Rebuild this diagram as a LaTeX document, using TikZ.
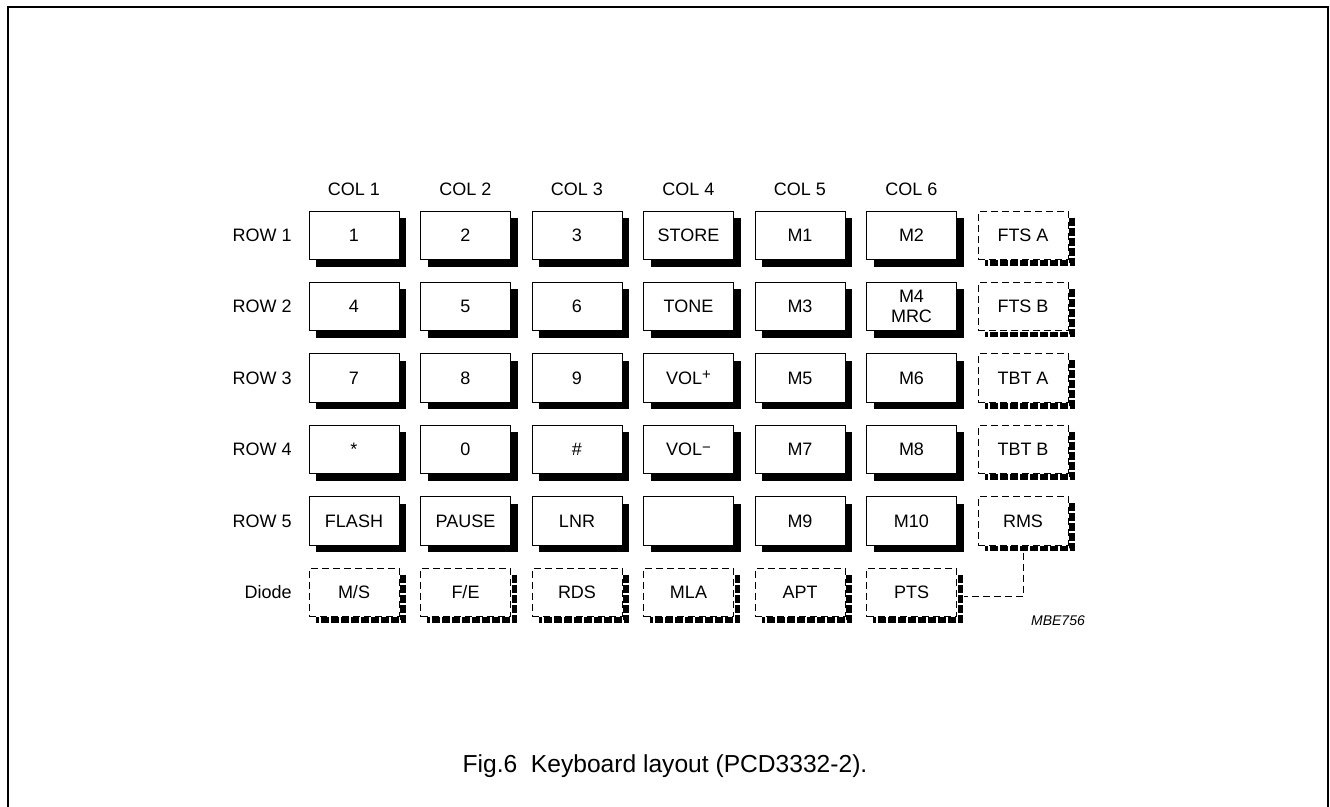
\documentclass[tikz,border=0pt]{standalone}
\usepackage{fontspec}
\setmainfont{Liberation Sans}
\usepackage{tikz}
\usetikzlibrary{shadows}

\newcommand{\keymark}[2]{\raisebox{#1}{\fontsize{7.5}{7.5}\selectfont #2}}

\tikzset{
	key/.style={draw, fill=white, line width=.5pt, minimum width=45pt,
		minimum height=24.25pt, inner sep=0pt, align=center,
		font=\fontsize{9}{10}\selectfont,
		general shadow={fill=black, shadow xshift=3.5pt, shadow yshift=-3.5pt}},
	dkey/.style={draw, fill=white, line width=.5pt, dash pattern=on 3.5pt off 2pt,
		minimum width=45pt, minimum height=24.25pt, inner sep=0pt,
		font=\fontsize{9}{10}\selectfont},
	dshade/.style={line width=2.75pt, dash pattern=on 4pt off 1pt},
	wire/.style={line width=.5pt, dash pattern=on 3.5pt off 2pt},
	lbl/.style={inner sep=0pt, font=\fontsize{9}{10}\selectfont}
}

\begin{document}
\begin{tikzpicture}[x=.5pt,y=-.5pt]
		\useasboundingbox (0,0) rectangle (1330,807);
		\draw[line width=1pt] (7.5,812) -- (7.5,7.5) -- (1328,7.5) -- (1328,812);
		
		% column and row labels
		\foreach \c in {1,...,6}
		\node[lbl] (col\c) at ({354+111.5*(\c-1)},189) {COL \c};
		\foreach \r in {1,...,5}
		\node[lbl,anchor=east] (row\r) at (292,{235.3+71.4*(\r-1)}) {ROW \r};
		\node[lbl,anchor=east] (diode) at (292,592.3) {Diode};
		
		% keys
		\foreach \t [count=\c] in {1,2,3,STORE,M1,M2}
		\node[key] (k1\c) at ({354+111.5*(\c-1)},235.3) {\t};
		\foreach \t [count=\c] in {4,5,6,TONE,M3,{M4\\MRC}}
		\node[key] (k2\c) at ({354+111.5*(\c-1)},306.7) {\t};
		\foreach \t [count=\c] in {7,8,9,{VOL\keymark{2.5pt}{+}},M5,M6}
		\node[key] (k3\c) at ({354+111.5*(\c-1)},378.1) {\t};
		\foreach \t [count=\c] in {*,0,\#,{VOL\keymark{1.5pt}{−}},M7,M8}
		\node[key] (k4\c) at ({354+111.5*(\c-1)},449.5) {\t};
		\foreach \t [count=\c] in {FLASH,PAUSE,LNR,{},M9,M10}
		\node[key] (k5\c) at ({354+111.5*(\c-1)},520.9) {\t};
		
		% diode keys
		\foreach \t [count=\r] in {FTS A,FTS B,TBT A,TBT B,RMS}
		\node[dkey] (k\r7) at (1023,{235.3+71.4*(\r-1)}) {\t};
		\foreach \t [count=\c] in {M/S,F/E,RDS,MLA,APT,PTS}
		\node[dkey] (k6\c) at ({354+111.5*(\c-1)},592.3) {\t};
		\foreach \k in {k17,k27,k37,k47,k57,k61,k62,k63,k64,k65,k66}
		\draw[dshade] ([shift={(3.5,7)}]\k.north east) -- ([shift={(3.5,3)}]\k.south east)
		-- ([shift={(7,3)}]\k.south west);
		
		\draw[wire] ([yshift=-3.5pt]k57.south) |- ([shift={(7,4)}]k66.east);
		
		\node[lbl,font=\fontsize{7}{8}\selectfont\itshape] (code) at (1058,621) {MBE756};
		\node[inner sep=0pt,anchor=base,font=\fontsize{12.3}{14}\selectfont] (caption)
		at (665,773) {Fig.6~~Keyboard layout (PCD3332-2).};
\end{tikzpicture}
\end{document}
